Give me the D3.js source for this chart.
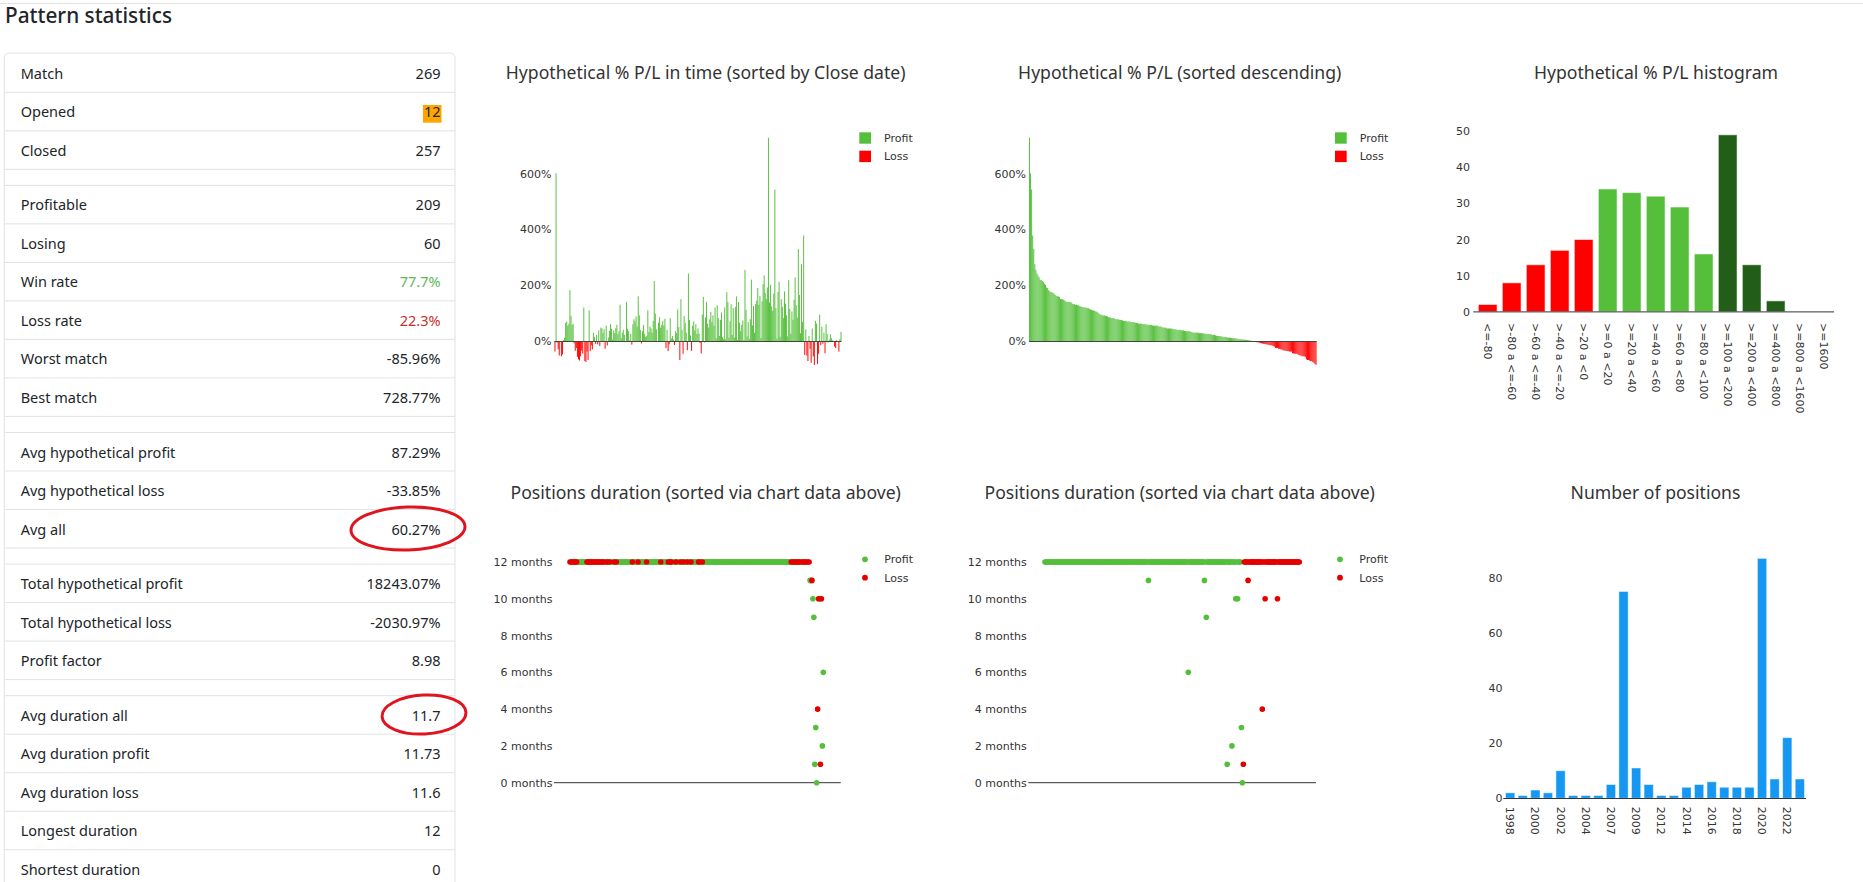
<!DOCTYPE html>
<html><head><meta charset="utf-8">
<script src="https://cdn.jsdelivr.net/npm/d3@7"></script>
<style>
html,body{margin:0;padding:0;background:#fff;overflow:hidden}
svg{display:block}
</style></head><body>
<svg id="c" width="1863" height="882"></svg>
<script>
// ---------------- DATA ----------------
// Hypothetical % P/L of each position, sorted by close date (269 positions)
const plValues = [
 -38,601,-6,-30,-52,-3,-55,-48,3,12,65,70,55,62,182,90,58,62,
 -8,-35,-25,-57,-66,-70,-55,-34,-45,120,-72,-75,-38,-68,110,-36,-15,-30,30,15,-10,22,-12,38,-18,48,45,28,
 42,-28,55,-16,12,36,60,44,5,38,
 28,46,58,24,35,130,10,30,40,22,
 -4,140,44,36,2,26,-13,60,78,70,
 88,52,160,92,40,-9,35,58,25,15,
 19,110,32,52,45,30,72,215,98,42,
 -3,66,85,48,58,
 72,55,80,-25,40,-36,-12,82,9,18,
 6,-14,35,28,113,50,-68,150,40,-46,
 90,65,30,-33,242,75,20,-35,55,70,
 38,60,25,45,27,-7,-45,95,158,-5,
 85,140,62,48,78,105,68,92,55,120,
 10,128,82,18,76,102,14,7,120,6,
 175,140,12,70,132,22,118,13,122,160,
 4,140,66,35,58,74,3,255,112,16,
 68,8,78,220,56,125,30,132,145,190,
 130,162,11,142,205,235,172,150,192,728.77,
 138,202,124,108,170,543,118,9,176,212,
 15,150,122,82,178,134,92,17,218,115,
 26,106,76,148,228,128,84,330,165,28,
 275,68,378,
 -50,42,-52,-72,18,-28,-78,45,-55,-85.96,72,62,-82,-46,95,-15,52,-10,30,-44,
 60,25,-5,5,24,10,2,0.5,-20,-25,4,-2,-38,7,33
];
// Duration in months of each position (same order as plValues)
const durations = [
 12,12,12,12,12,12,12,12,12,12,12,12,12,12,12,12,12,12,12,12,
 12,12,12,12,12,12,12,12,12,12,12,12,12,12,12,12,12,12,12,12,
 12,12,12,12,12,12,12,12,12,12,12,12,12,12,12,12,12,12,12,12,
 12,12,12,12,12,12,12,12,12,12,12,12,12,12,12,12,12,12,12,12,
 12,12,12,12,12,12,12,12,12,12,12,12,12,12,12,12,12,12,12,12,
 12,12,12,12,12,12,12,12,12,12,12,12,12,12,12,12,12,12,12,12,
 12,12,12,12,12,12,12,12,12,12,12,12,12,12,12,12,12,12,12,12,
 12,12,12,12,12,12,12,12,12,12,12,12,12,12,12,12,12,12,12,12,
 12,12,12,12,12,12,12,12,12,12,12,12,12,12,12,12,12,12,12,12,
 12,12,12,12,12,12,12,12,12,12,12,12,12,12,12,12,12,12,12,12,
 12,12,12,12,12,12,12,12,12,12,12,12,12,12,12,12,12,12,12,12,
 12,12,12,12,12,12,12,12,12,12,12,12,12,12,12,12,12,12,12,12,
 12,12,12,12,12,12,12,12,12,12,12,12,12,12,
 11,11,11,10,9,1,3,0,4,10,10,1,10,2,6
];
const plTicks = [0,200,400,600];
const durationTicks = [0,2,4,6,8,10,12];

const histCategories = ["<=-80",">-80 a <=-60",">-60 a <=-40",">-40 a <=-20",">-20 a <0",
  ">=0 a <20",">=20 a <40",">=40 a <60",">=60 a <80",">=80 a <100",
  ">=100 a <200",">=200 a <400",">=400 a <800",">=800 a <1600",">=1600"];
const histCounts = [2,8,13,17,20,34,33,32,29,16,49,13,3,0,0];
const histGroups = ["loss","loss","loss","loss","loss","profit","profit","profit","profit","profit","big","big","big","big","big"];
const histTicks = [0,10,20,30,40,50];

const yearCategories = ["1998","1999","2000","2001","2002","2003","2004","2006","2007","2008","2009","2010",
  "2012","2013","2014","2015","2016","2017","2018","2019","2020","2021","2022","2023"];
const yearCounts = [2,1,3,2,10,1,1,1,5,75,11,5,1,1,4,5,6,4,4,4,87,7,22,7];
const yearTickLabels = ["1998","2000","2002","2004","2007","2009","2012","2014","2016","2018","2020","2022"];
const yearTicksY = [0,20,40,60,80];

const statLabels = ["Match","Opened","Closed",null,"Profitable","Losing","Win rate","Loss rate","Worst match","Best match",null,
  "Avg hypothetical profit","Avg hypothetical loss","Avg all",null,"Total hypothetical profit","Total hypothetical loss","Profit factor",null,
  "Avg duration all","Avg duration profit","Avg duration loss","Longest duration","Shortest duration"];
const statValues = ["269","12","257",null,"209","60","77.7%","22.3%","-85.96%","728.77%",null,
  "87.29%","-33.85%","60.27%",null,"18243.07%","-2030.97%","8.98",null,
  "11.7","11.73","11.6","12","0"];

// ---------------- STYLE ----------------
const W=1863, H=882;
const FONT_UI="'Noto Sans','Open Sans',sans-serif";
const FONT_CH="'DejaVu Sans',Verdana,sans-serif";
const GREEN="#55bf3b", RED="#ff0000", DARKGREEN="#225e17", DOTRED="#e50000", BLUE="#1597f2";
const svg = d3.select("#c");

// top rule + page title
svg.append("line").attr("x1",0).attr("x2",W).attr("y1",3.5).attr("y2",3.5).attr("stroke","#e2e2e2");
svg.append("text").attr("x",5).attr("y",22.5).attr("font-family",FONT_UI).attr("font-size",21)
  .attr("font-weight",500).attr("fill","#212529").attr("textLength",167).attr("lengthAdjust","spacingAndGlyphs")
  .text("Pattern statistics");

// ---------------- TABLE ----------------
(function(){
  const g = svg.append("g");
  const left=4.3, right=455, top=53;
  g.append("rect").attr("x",left).attr("y",top).attr("width",right-left).attr("height",H)
    .attr("rx",5).attr("fill","#fff").attr("stroke","#dfe2e6");
  let y = 53.8;
  const rowH = 38.5, spH = 16.1;
  statLabels.forEach((lab,i)=>{
    const h = lab===null ? spH : rowH;
    if(lab!==null){
      g.append("text").attr("x",20.7).attr("y",y+25).attr("font-family",FONT_UI).attr("font-size",14.5)
        .attr("fill","#212529").text(lab);
      let col="#212529";
      if(lab==="Win rate") col="#5cb85c";
      if(lab==="Loss rate") col="#c9302c";
      const t = g.append("text").attr("x",440.5).attr("y",y+25).attr("text-anchor","end")
        .attr("font-family",FONT_UI).attr("font-size",14.5).attr("fill",col).text(statValues[i]);
      if(lab==="Opened"){
        const bb = t.node().getBBox();
        g.insert("rect","text").attr("x",bb.x-1).attr("y",y+12.7).attr("width",bb.width+2).attr("height",17.7)
          .attr("fill","#ffa500");
      }
    }
    y += h;
    if(y < H) g.append("line").attr("x1",left).attr("x2",right).attr("y1",y).attr("y2",y).attr("stroke","#dfe2e6");
  });
  // hand-drawn emphasis ellipses
  g.append("ellipse").attr("cx",408).attr("cy",528.5).attr("rx",57).attr("ry",21.5)
    .attr("fill","none").attr("stroke","#e0141e").attr("stroke-width",3)
    .attr("transform","rotate(-2 408 528.5)");
  g.append("ellipse").attr("cx",424).attr("cy",714.5).attr("rx",42).attr("ry",19.5)
    .attr("fill","none").attr("stroke","#e0141e").attr("stroke-width",3)
    .attr("transform","rotate(-3 424 714.5)");
})();

// ---------------- TITLES ----------------
function title(x,y,txt){
  svg.append("text").attr("x",x).attr("y",y).attr("dy","0.35em").attr("text-anchor","middle")
    .attr("font-family",FONT_UI).attr("font-size",17.6).attr("fill","#333").text(txt);
}
title(705.7,72.5,"Hypothetical % P/L in time (sorted by Close date)");
title(1179.7,72.5,"Hypothetical % P/L (sorted descending)");
title(1656,72.5,"Hypothetical % P/L histogram");
title(705.7,493,"Positions duration (sorted via chart data above)");
title(1179.7,493,"Positions duration (sorted via chart data above)");
title(1655.5,493,"Number of positions");

function styleAxis(ax){
  ax.select(".domain").remove();
  ax.selectAll("line").remove();
  ax.selectAll("text").attr("font-family",FONT_CH).attr("font-size",11).attr("fill","#333");
}

// ---------------- P/L BAR CHARTS ----------------
const n = plValues.length;
const timeOrder = d3.range(n);
const sortedOrder = d3.range(n).sort((a,b)=>plValues[b]-plValues[a]);
const yPL = d3.scaleLinear().domain([0,600]).range([341,173.6]);

function plChart(order, x0, x1, legX){
  const g = svg.append("g");
  const xs = d3.scaleBand().domain(d3.range(order.length)).range([x0,x1]).paddingInner(0.1);
  g.selectAll("rect.bar").data(order).join("rect").attr("class","bar")
    .attr("x",(d,i)=>xs(i)).attr("width",xs.bandwidth())
    .attr("y",d=>plValues[d]>=0 ? yPL(plValues[d]) : yPL(0))
    .attr("height",d=>Math.abs(yPL(plValues[d])-yPL(0)))
    .attr("fill",d=>plValues[d]>=0 ? GREEN : RED);
  g.append("line").attr("x1",x0).attr("x2",x1).attr("y1",yPL(0)+0.5).attr("y2",yPL(0)+0.5)
    .attr("stroke","#444").attr("stroke-width",1);
  const ax = g.append("g").attr("transform",`translate(${x0},0)`)
    .call(d3.axisLeft(yPL).tickValues(plTicks).tickSize(0).tickPadding(3).tickFormat(d=>d+"%"));
  styleAxis(ax);
  [["Profit",GREEN,132.3],["Loss",RED,150.7]].forEach(([lab,col,yy])=>{
    g.append("rect").attr("x",legX).attr("y",yy).attr("width",11.7).attr("height",11.4).attr("fill",col);
    g.append("text").attr("x",legX+24.7).attr("y",yy+5.7).attr("dy","0.35em").attr("font-family",FONT_CH)
      .attr("font-size",11).attr("fill","#333").text(lab);
  });
}
plChart(timeOrder, 554.5, 841.5, 859.3);
plChart(sortedOrder, 1029, 1316.5, 1335);

// ---------------- HISTOGRAM ----------------
(function(){
  const g = svg.append("g");
  const xh = d3.scaleBand().domain(histCategories).range([1475.7,1835.7]).paddingInner(0.22).paddingOuter(0.11);
  const yh = d3.scaleLinear().domain([0,50]).range([311.7,131.2]);
  const col = {loss:RED, profit:GREEN, big:DARKGREEN};
  g.selectAll("rect").data(histCategories).join("rect")
    .attr("x",d=>xh(d)).attr("width",xh.bandwidth())
    .attr("y",(d,i)=>yh(histCounts[i])).attr("height",(d,i)=>yh(0)-yh(histCounts[i]))
    .attr("fill",(d,i)=>col[histGroups[i]]).attr("stroke","rgba(255,255,255,0.55)").attr("stroke-width",1);
  g.append("line").attr("x1",1473.3).attr("x2",1834).attr("y1",311.9).attr("y2",311.9).attr("stroke","#333");
  const ax = g.append("g").attr("transform","translate(1473,0)")
    .call(d3.axisLeft(yh).tickValues(histTicks).tickSize(0).tickPadding(3));
  styleAxis(ax);
  g.selectAll("text.xl").data(histCategories).join("text").attr("class","xl")
    .attr("transform",d=>`translate(${xh(d)+xh.bandwidth()/2},323) rotate(90)`)
    .attr("dy","0.35em").attr("font-family",FONT_CH).attr("font-size",11).attr("fill","#333").text(d=>d);
})();

// ---------------- DURATION SCATTERS ----------------
const yDur = d3.scaleLinear().domain([0,12]).range([782.7,562]);
function durChart(order, x0, x1, p0, p1, legX){
  const g = svg.append("g");
  const xs = d3.scalePoint().domain(d3.range(order.length)).range([p0,p1]);
  g.append("line").attr("x1",x0).attr("x2",x1).attr("y1",yDur(0)).attr("y2",yDur(0)).attr("stroke","#333");
  const ax = g.append("g").attr("transform",`translate(${x0},0)`)
    .call(d3.axisLeft(yDur).tickValues(durationTicks).tickSize(0).tickPadding(1.5).tickFormat(d=>d+" months"));
  styleAxis(ax);
  const pts = order.map((d,i)=>({i, d, v:plValues[d], m:durations[d]}));
  g.selectAll("circle.p").data(pts.filter(p=>p.v>=0)).join("circle").attr("class","p")
    .attr("cx",p=>xs(p.i)).attr("cy",p=>yDur(p.m)).attr("r",2.8).attr("fill",GREEN);
  g.selectAll("circle.l").data(pts.filter(p=>p.v<0)).join("circle").attr("class","l")
    .attr("cx",p=>xs(p.i)).attr("cy",p=>yDur(p.m)).attr("r",2.8).attr("fill",DOTRED);
  [["Profit",GREEN,559.3],["Loss",DOTRED,577.7]].forEach(([lab,col,yy])=>{
    g.append("circle").attr("cx",legX).attr("cy",yy).attr("r",2.9).attr("fill",col);
    g.append("text").attr("x",legX+19.3).attr("y",yy).attr("dy","0.35em").attr("font-family",FONT_CH)
      .attr("font-size",11).attr("fill","#333").text(lab);
  });
}
durChart(timeOrder, 554, 840.7, 570, 823.3, 865);
durChart(sortedOrder, 1028.3, 1316, 1045, 1299.3, 1340);

// ---------------- NUMBER OF POSITIONS ----------------
(function(){
  const g = svg.append("g");
  const xy = d3.scaleBand().domain(yearCategories).range([1504,1806]).paddingInner(0.26).paddingOuter(0.12);
  const yy = d3.scaleLinear().domain([0,90]).range([798.3,550.1]);
  g.selectAll("rect").data(yearCategories).join("rect")
    .attr("x",d=>xy(d)).attr("width",xy.bandwidth())
    .attr("y",(d,i)=>yy(yearCounts[i])).attr("height",(d,i)=>yy(0)-yy(yearCounts[i]))
    .attr("fill",BLUE).attr("stroke","rgba(255,255,255,0.5)").attr("stroke-width",1);
  g.append("line").attr("x1",1503.3).attr("x2",1806).attr("y1",798.5).attr("y2",798.5).attr("stroke","#333");
  const ax = g.append("g").attr("transform","translate(1505.5,0)")
    .call(d3.axisLeft(yy).tickValues(yearTicksY).tickSize(0).tickPadding(3));
  styleAxis(ax);
  g.selectAll("text.xl").data(yearTickLabels).join("text").attr("class","xl")
    .attr("transform",d=>`translate(${xy(d)+xy.bandwidth()/2},806.7) rotate(90)`)
    .attr("dy","0.35em").attr("font-family",FONT_CH).attr("font-size",11).attr("fill","#333").text(d=>d);
})();
</script>
</body></html>
